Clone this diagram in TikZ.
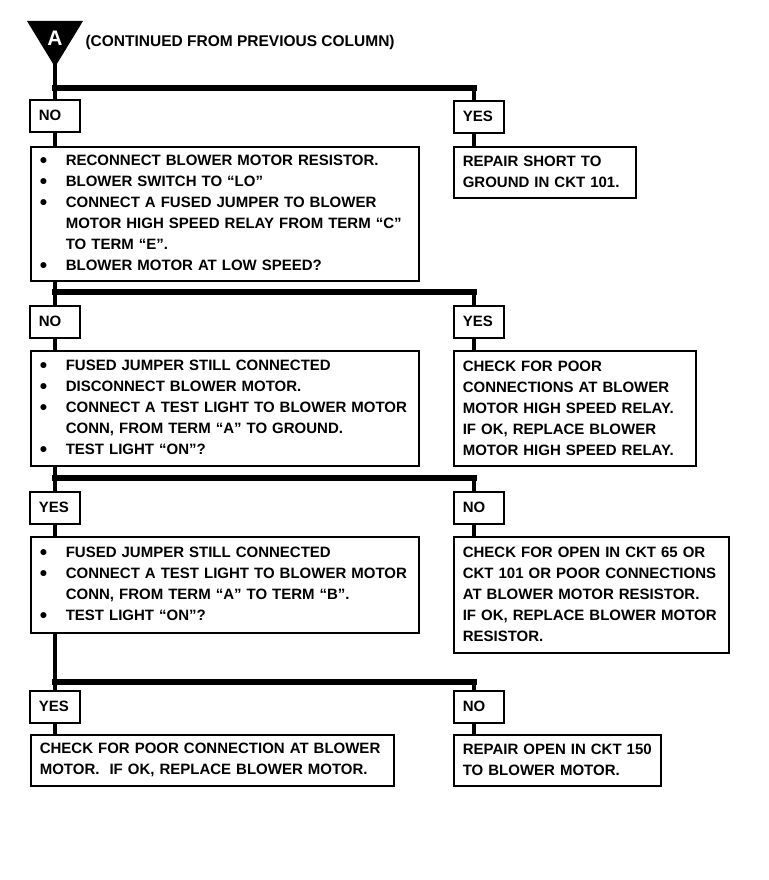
\documentclass[tikz,border=0pt]{standalone}
\usepackage{fontspec}
\setmainfont{Liberation Sans}
\tikzset{
	box/.style={draw, line width=1.6pt, anchor=north west, inner xsep=9pt, inner ysep=0pt, align=left, font=\bfseries\fontsize{15}{21}\selectfont},
	tag/.style={box, text width=32pt, minimum height=32pt},
	wire/.style={line width=4.5pt},
	bus/.style={line width=6pt, line cap=rect}
}
\newcommand{\bl}{\makebox[26pt][l]{\raisebox{-1.5pt}{\fontsize{21}{21}\selectfont\textbullet}}}
\newcommand{\ind}{\hspace*{26pt}}
\begin{document}
\begin{tikzpicture}[x=1pt, y=-1pt]
	\useasboundingbox (0,0) rectangle (768,880);
	\fill (27,21) -- (83,21) -- (55,67) -- cycle;
	\node[text=white, font=\bfseries\fontsize{21}{21}\selectfont] (tri) at (55,38) {A};
	\node[anchor=west, font=\bfseries\fontsize{15.5}{21}\selectfont] (cont) at (82,42) {(CONTINUED FROM PREVIOUS COLUMN)};
	\coordinate (tip) at (55,64);
	\coordinate (j1) at (55,88);
	\coordinate (k1) at (474,88);
	\coordinate (j2) at (55,292);
	\coordinate (k2) at (474,292);
	\coordinate (j3) at (55,478);
	\coordinate (k3) at (474,478);
	\coordinate (j4) at (55,682);
	\coordinate (k4) at (474,682);

	\node[tag] (no1) at (29,99) {NO};
	\node[tag] (yes1) at (453,100) {YES};
	\node[box, text width=370pt, minimum height=134pt] (m1) at (30,146) {\bl RECONNECT BLOWER MOTOR RESISTOR.\\ \bl BLOWER SWITCH TO “LO”\\ \bl CONNECT A FUSED JUMPER TO BLOWER\\ \ind MOTOR HIGH SPEED RELAY FROM TERM “C”\\ \ind TO TERM “E”.\\ \bl BLOWER MOTOR AT LOW SPEED?};
	\node[box, text width=164pt, minimum height=51pt] (r1) at (453,146) {REPAIR SHORT TO\\ GROUND IN CKT 101.};

	\node[tag] (no2) at (29,305) {NO};
	\node[tag] (yes2) at (453,305) {YES};
	\node[box, text width=370pt, minimum height=115pt] (m2) at (30,350) {\bl FUSED JUMPER STILL CONNECTED\\ \bl DISCONNECT BLOWER MOTOR.\\ \bl CONNECT A TEST LIGHT TO BLOWER MOTOR\\ \ind CONN, FROM TERM “A” TO GROUND.\\ \bl TEST LIGHT “ON”?};
	\node[box, text width=224pt, minimum height=115pt] (r2) at (453,350) {CHECK FOR POOR\\ CONNECTIONS AT BLOWER\\ MOTOR HIGH SPEED RELAY.\\ IF OK, REPLACE BLOWER\\ MOTOR HIGH SPEED RELAY.};

	\node[tag] (yes3) at (29,491) {YES};
	\node[tag] (no3) at (453,491) {NO};
	\node[box, text width=370pt, minimum height=96pt] (m3) at (30,536) {\bl FUSED JUMPER STILL CONNECTED\\ \bl CONNECT A TEST LIGHT TO BLOWER MOTOR\\ \ind CONN, FROM TERM “A” TO TERM “B”.\\ \bl TEST LIGHT “ON”?};
	\node[box, text width=257pt, minimum height=116pt] (r3) at (453,536) {CHECK FOR OPEN IN CKT 65 OR\\ CKT 101 OR POOR CONNECTIONS\\ AT BLOWER MOTOR RESISTOR.\\ IF OK, REPLACE BLOWER MOTOR\\ RESISTOR.};

	\node[tag] (yes4) at (29,690) {YES};
	\node[tag] (no4) at (453,690) {NO};
	\node[box, text width=345pt, minimum height=51pt] (m4) at (30,734) {CHECK FOR POOR CONNECTION AT BLOWER\\ MOTOR.~ IF OK, REPLACE BLOWER MOTOR.};
	\node[box, text width=189pt, minimum height=51pt] (r4) at (453,734) {REPAIR OPEN IN CKT 150\\ TO BLOWER MOTOR.};

	\draw[wire] (tip) -- (j1);
	\draw[bus] (j1) -- (k1);
	\draw[wire] (j1) -- (no1.north -| j1);
	\draw[wire] (k1) -- (yes1.north -| k1);
	\draw[wire] (no1.south -| j1) -- (m1.north -| j1);
	\draw[wire] (yes1.south -| k1) -- (r1.north -| k1);

	\draw[wire] (m1.south -| j2) -- (j2);
	\draw[bus] (j2) -- (k2);
	\draw[wire] (j2) -- (no2.north -| j2);
	\draw[wire] (k2) -- (yes2.north -| k2);
	\draw[wire] (no2.south -| j2) -- (m2.north -| j2);
	\draw[wire] (yes2.south -| k2) -- (r2.north -| k2);

	\draw[wire] (m2.south -| j3) -- (j3);
	\draw[bus] (j3) -- (k3);
	\draw[wire] (j3) -- (yes3.north -| j3);
	\draw[wire] (k3) -- (no3.north -| k3);
	\draw[wire] (yes3.south -| j3) -- (m3.north -| j3);
	\draw[wire] (no3.south -| k3) -- (r3.north -| k3);

	\draw[wire] (m3.south -| j4) -- (j4);
	\draw[bus] (j4) -- (k4);
	\draw[wire] (j4) -- (yes4.north -| j4);
	\draw[wire] (k4) -- (no4.north -| k4);
	\draw[wire] (yes4.south -| j4) -- (m4.north -| j4);
	\draw[wire] (no4.south -| k4) -- (r4.north -| k4);
\end{tikzpicture}
\end{document}
